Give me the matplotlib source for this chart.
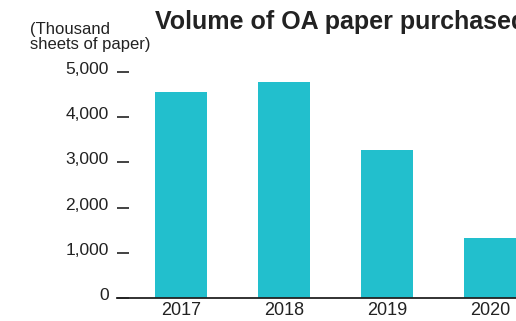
import matplotlib.pyplot as plt
import matplotlib.transforms as mtransforms

years = ['2017', '2018', '2019', '2020']
sheets = [4560, 4780, 3270, 1330]
yticks = [0, 1000, 2000, 3000, 4000, 5000]

plt.rcParams['font.family'] = ['Liberation Sans', 'DejaVu Sans']

fig = plt.figure(figsize=(5.16, 3.21), dpi=100)
ax = fig.add_axes([117 / 516, 23 / 321, 1 - 117 / 516, (298 - 72) / 321])

ax.bar(range(len(years)), sheets, width=0.5, color='#22bfcd')
ax.set_xlim(-0.62, 3.25)
ax.set_ylim(0, 5000)

ax.set_xticks(range(len(years)))
ax.set_xticklabels(years, fontsize=13, color='#222222')
ax.tick_params(axis='x', length=0, pad=3)

ax.set_yticks(yticks)
ax.set_yticklabels([f'{v:,}' for v in yticks], fontsize=12.5, color='#222222')
ax.tick_params(axis='y', direction='in', length=8.5, width=1.2,
               color='#222222', pad=6)
# labels sit a little above their dash
offset = mtransforms.ScaledTranslation(0, 4 / 100, fig.dpi_scale_trans)
for lab in ax.get_yticklabels():
    lab.set_transform(lab.get_transform() + offset)

for side in ['top', 'right', 'left']:
    ax.spines[side].set_visible(False)
ax.spines['bottom'].set_color('#222222')
ax.spines['bottom'].set_linewidth(1.3)

fig.text(30 / 516, 1 - 37 / 321, '(Thousand\nsheets of paper)', fontsize=12,
         color='#222222', va='center', ha='left', linespacing=1.0)
fig.text(155 / 516, 1 - 22 / 321, 'Volume of OA paper purchased',
         fontsize=18, fontweight='bold', color='#222222', va='center', ha='left')

fig.savefig('out.png', dpi=100)
